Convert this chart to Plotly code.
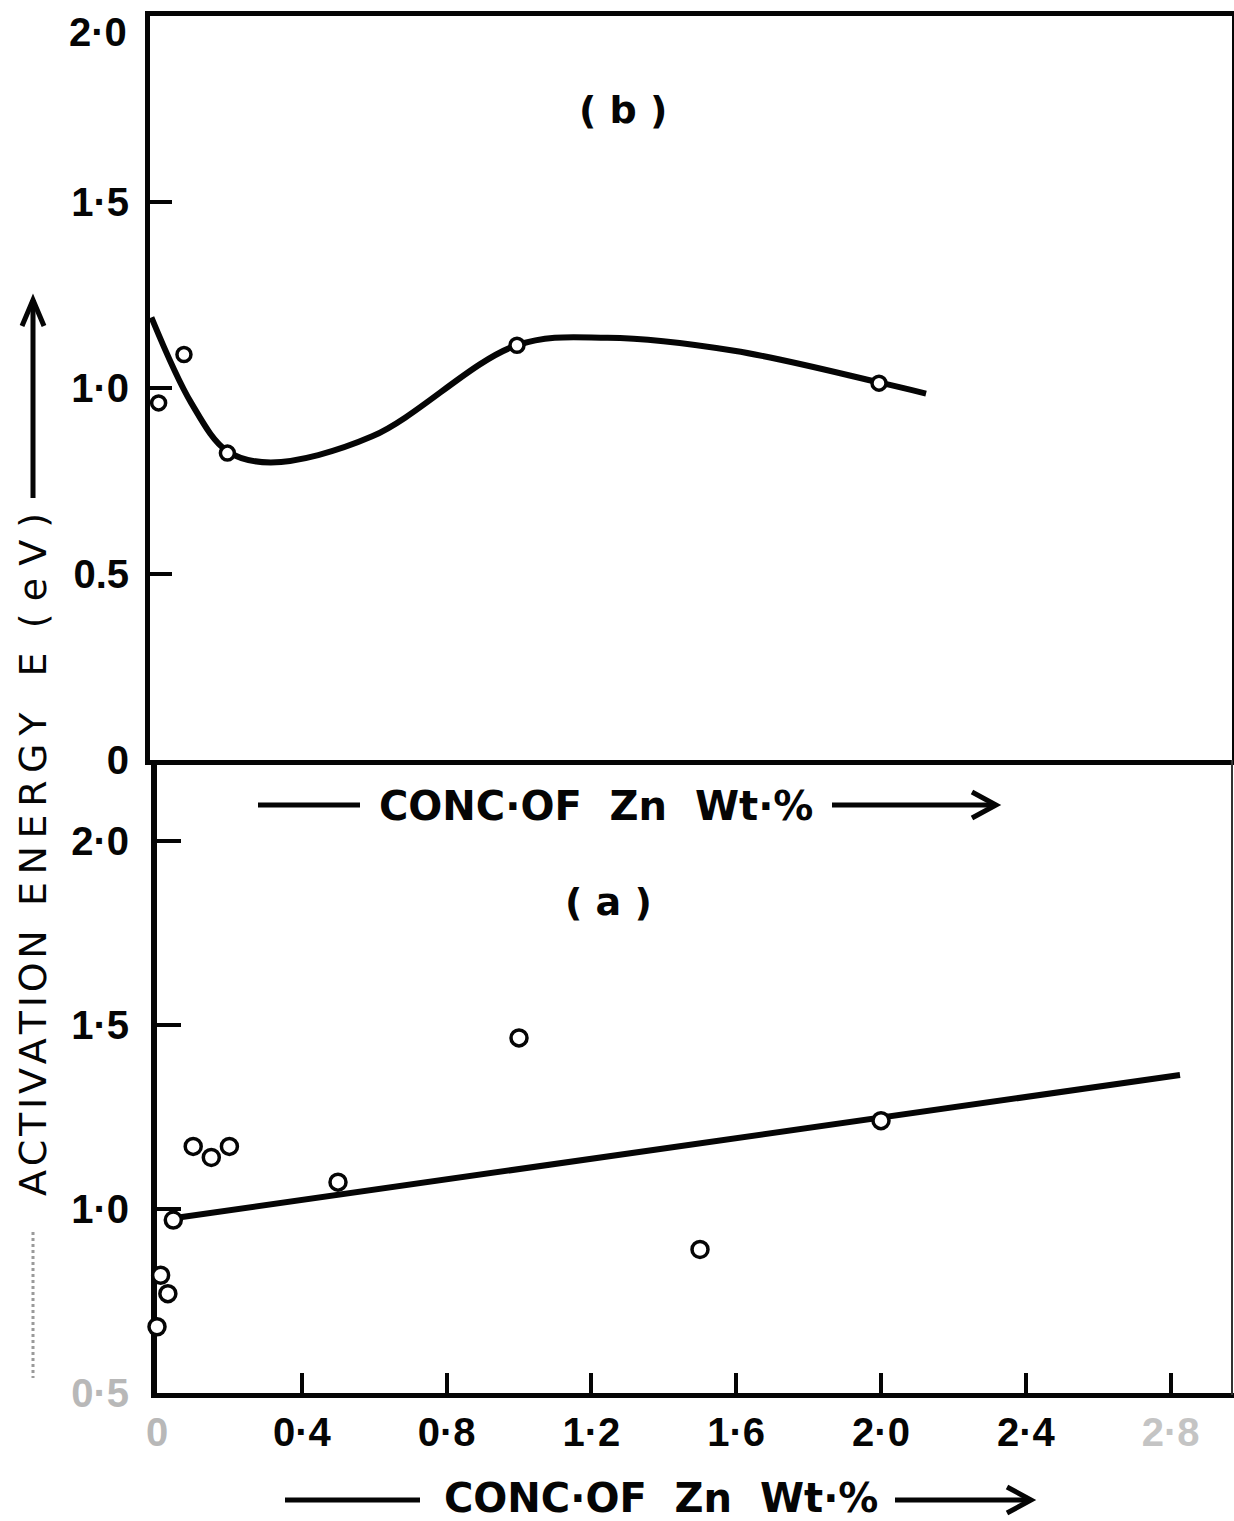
import plotly.graph_objects as go

W, H = 1234, 1521

# ---- panel (b): activation energy vs Zn concentration ----
b_conc = [0.01, 0.08, 0.20, 1.00, 2.00]
b_energy = [0.96, 1.09, 0.825, 1.115, 1.013]
# knots of the hand-drawn smooth curve
b_curve_conc = [-0.01, 0.10, 0.20, 0.32, 0.60, 1.00, 1.25, 1.60, 2.00, 2.13]
b_curve_energy = [1.19, 0.96, 0.83, 0.80, 0.87, 1.115, 1.135, 1.10, 1.015, 0.985]

# ---- panel (a) ----
a_conc = [0.0, 0.01, 0.03, 0.045, 0.10, 0.15, 0.20, 0.50, 1.00, 1.50, 2.00]
a_energy = [0.68, 0.82, 0.77, 0.97, 1.17, 1.14, 1.17, 1.073, 1.465, 0.89, 1.24]
a_fit_conc = [0.045, 2.826]
a_fit_energy = [0.975, 1.364]

# tick labels
b_y_vals = [0, 0.5, 1.0, 1.5]
b_y_text = ["0", "0.5", "1·0", "1·5"]
a_y_vals = [0.5, 1.0, 1.5, 2.0]
a_y_text = ["<span style='color:#b8b8b8'>0·5</span>", "1·0", "1·5", "2·0"]
a_x_vals = [0, 0.4, 0.8, 1.2, 1.6, 2.0, 2.4, 2.8]
a_x_text = ["<span style='color:#b8b8b8'>0</span>", "0·4", "0·8", "1·2", "1·6", "2·0", "2·4",
            "<span style='color:#c4c4c4'>2·8</span>"]

HAIR, THIN = "\u200a", "\u2009"
x_title = "CONC·OF  Zn  Wt·%"
y_title = (HAIR.join("ACTIVATION") + "  " + THIN.join("ENERGY") + "   E  " + " ".join("(eV)"))

INK = "#050505"
TICK_FONT = dict(family="Liberation Sans, Arial, sans-serif", size=40, color=INK, weight="bold")
TITLE_FONT = dict(family="DejaVu Sans, sans-serif", size=40, color=INK, weight="bold")
PANEL_FONT = dict(family="DejaVu Sans, sans-serif", size=38, color=INK, weight="bold")
YTITLE_FONT = dict(family="DejaVu Sans, sans-serif", size=38, color=INK)


def px(x):
    return x / W


def py(y):
    return 1 - y / H


fig = go.Figure()

fig.add_trace(go.Scatter(
    x=b_curve_conc, y=b_curve_energy, mode="lines",
    line=dict(color=INK, width=6, shape="spline", smoothing=1.0),
    xaxis="x", yaxis="y", hoverinfo="skip", showlegend=False))
fig.add_trace(go.Scatter(
    x=b_conc, y=b_energy, mode="markers",
    marker=dict(symbol="circle", size=14, color="white", line=dict(color=INK, width=3.5)),
    xaxis="x", yaxis="y", cliponaxis=False, showlegend=False))

fig.add_trace(go.Scatter(
    x=a_fit_conc, y=a_fit_energy, mode="lines",
    line=dict(color=INK, width=6),
    xaxis="x2", yaxis="y2", hoverinfo="skip", showlegend=False))
fig.add_trace(go.Scatter(
    x=a_conc, y=a_energy, mode="markers",
    marker=dict(symbol="circle", size=16, color="white", line=dict(color=INK, width=3.5)),
    xaxis="x2", yaxis="y2", cliponaxis=False, showlegend=False))

# axis scale: 362 px per wt.% horizontally
XS = 362.0
top_x0 = 155
bot_x0 = 157

fig.update_layout(
    template="none",
    width=W, height=H,
    margin=dict(l=0, r=0, t=0, b=0, pad=0, autoexpand=False),
    paper_bgcolor="white", plot_bgcolor="white",
    showlegend=False,
    xaxis=dict(domain=[px(150), px(1232)],
               range=[(150 - top_x0) / XS, (1232 - top_x0) / XS],
               showline=True, mirror=True, linewidth=5, linecolor=INK,
               showgrid=False, zeroline=False, ticks="", showticklabels=False,
               layer="below traces", anchor="y", automargin=False),
    yaxis=dict(domain=[py(760), py(16)], range=[0, 2.0],
               showline=True, mirror=True, linewidth=5, linecolor=INK,
               showgrid=False, zeroline=False,
               tickmode="array", tickvals=b_y_vals, ticktext=b_y_text,
               ticks="inside", ticklen=22, tickwidth=4, tickcolor=INK,
               tickfont=TICK_FONT, ticklabelstandoff=8,
               layer="below traces", anchor="x", automargin=False),
    xaxis2=dict(domain=[px(bot_x0), 1.0],
                range=[0, (1234 - bot_x0) / XS],
                showline=True, linewidth=5, linecolor=INK,
                showgrid=False, zeroline=False,
                tickmode="array", tickvals=a_x_vals, ticktext=a_x_text,
                ticks="inside", ticklen=20, tickwidth=4, tickcolor=INK,
                tickfont=TICK_FONT, ticklabelstandoff=0,
                layer="below traces", anchor="y2", automargin=False),
    yaxis2=dict(domain=[py(1393), py(760)], range=[0.5, 0.5 + (1393 - 760) / 368.0],
                showline=True, linewidth=6, linecolor=INK,
                showgrid=False, zeroline=False,
                tickmode="array", tickvals=a_y_vals, ticktext=a_y_text,
                ticks="inside", ticklen=24, tickwidth=4, tickcolor=INK,
                tickfont=TICK_FONT, ticklabelstandoff=14,
                layer="below traces", anchor="x2", automargin=False),
)


def label(x, y, text, font, **kw):
    d = dict(x=x, y=y, xref="paper", yref="paper", text=text, showarrow=False,
             xanchor="center", yanchor="middle", font=font)
    d.update(kw)
    return d


ann = [
    # top "2·0" label sits just below the frame corner
    dict(x=px(129), y=2.0, xref="paper", yref="y", text="2·0", showarrow=False,
         xanchor="right", yanchor="top", yshift=8, font=TICK_FONT),
    label(px(623), py(110), "( b )", PANEL_FONT),
    label(px(608), py(902), "( a )", PANEL_FONT),
    label(px(596), py(806), x_title, TITLE_FONT),
    label(px(661), py(1498), x_title, TITLE_FONT),
    label(px(33), py(855), y_title, YTITLE_FONT, textangle=-90),
]
fig.update_layout(annotations=ann)


def hline(x0, x1, y, w=5, color=INK, dash="solid"):
    return dict(type="line", xref="paper", yref="paper",
                x0=px(x0), x1=px(x1), y0=py(y), y1=py(y),
                line=dict(color=color, width=w, dash=dash))


def vline(x, y0, y1, w=5, color=INK, dash="solid"):
    return dict(type="line", xref="paper", yref="paper",
                x0=px(x), x1=px(x), y0=py(y0), y1=py(y1),
                line=dict(color=color, width=w, dash=dash))


def chevron(points, w=5):
    path = "M " + " L ".join(f"{px(a):.5f},{py(b):.5f}" for a, b in points)
    return dict(type="path", xref="paper", yref="paper", path=path,
                line=dict(color=INK, width=w))


shapes = [
    # x-title arrows
    hline(258, 360, 805),
    hline(832, 995, 805),
    chevron([(972, 792), (996, 805), (972, 818)]),
    hline(285, 420, 1500),
    hline(895, 1030, 1500),
    chevron([(1007, 1487), (1031, 1500), (1007, 1513)]),
    # y-title arrow
    vline(33, 498, 300),
    chevron([(22, 326), (33, 300), (44, 326)]),
    vline(33, 1232, 1378, w=3, color="#9a9a9a", dash="dot"),
    # right border running down past the divider
    vline(1232, 760, 1395, w=2, color="#333333"),
]
fig.update_layout(shapes=shapes)

fig.write_html("out.html")
